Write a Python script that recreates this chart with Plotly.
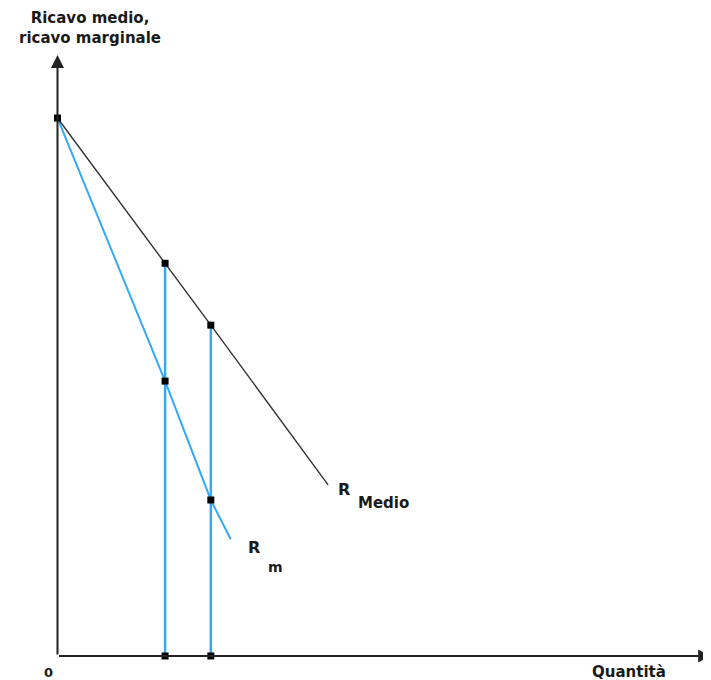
import plotly.graph_objects as go

# Values (price/quantity units)
intercept = 10.0
quantities = [2.00, 2.85]            # the two marked quantities
ar_at_q = [7.30, 6.15]               # average revenue at those quantities
mr_at_q = [5.11, 2.90]               # marginal revenue at those quantities
ar_end = (5.03, 3.18)                # end of the average revenue line
mr_end = (3.22, 2.17)                # end of the marginal revenue line
x_axis_max = 12.15
y_axis_max = 11.17

ar_x = [0] + quantities + [ar_end[0]]
ar_y = [intercept] + ar_at_q + [ar_end[1]]
mr_x = [0] + quantities + [mr_end[0]]
mr_y = [intercept] + mr_at_q + [mr_end[1]]

BLUE = "#35a9f5"
FONT = "DejaVu Sans"
TXT = "#1a1a1a"

fig = go.Figure()

# vertical lines from quantity axis to average revenue
for q, a in zip(quantities, ar_at_q):
    fig.add_trace(go.Scatter(x=[q, q], y=[0, a], mode="lines",
                             line=dict(color=BLUE, width=2.5), hoverinfo="skip"))

fig.add_trace(go.Scatter(x=mr_x, y=mr_y, mode="lines",
                         line=dict(color=BLUE, width=2), hoverinfo="skip"))
fig.add_trace(go.Scatter(x=ar_x, y=ar_y, mode="lines",
                         line=dict(color="#333333", width=1.4), hoverinfo="skip"))

px_pts = [0] + quantities + quantities + quantities
py_pts = [intercept] + ar_at_q + mr_at_q + [0, 0]
fig.add_trace(go.Scatter(x=px_pts, y=py_pts, mode="markers",
                         marker=dict(symbol="square", size=7, color="black"),
                         hoverinfo="skip", cliponaxis=False))

ann = []
# axes with arrows
ann.append(dict(x=0, y=y_axis_max, ax=0, ay=0, xref="x", yref="y", axref="x", ayref="y",
                showarrow=True, arrowhead=2, arrowsize=1.3, arrowwidth=2, arrowcolor="#222", text=""))
ann.append(dict(x=x_axis_max, y=0, ax=0, ay=0, xref="x", yref="y", axref="x", ayref="y",
                showarrow=True, arrowhead=2, arrowsize=1.3, arrowwidth=2, arrowcolor="#222", text=""))

def label(x, y, t, size=14):
    ann.append(dict(x=x, y=y, xref="x", yref="y", text="<b>" + t + "</b>", showarrow=False,
                    font=dict(family=FONT, size=size, color=TXT)))

label(0.61, 11.67, "Ricavo medio,<br>ricavo marginale", 15)
label(-0.17, -0.30, "0", 13)
label(10.63, -0.30, "Quantità", 15)
label(5.32, 3.10, "R", 16)
label(6.06, 2.84, "Medio", 15)
label(3.66, 2.01, "R", 16)
label(4.05, 1.65, "m", 14)

# page has an 8px body margin: ranges chosen so the origin sits at page pixel (57.5, 656)
fig.update_layout(
    width=711, height=680,
    margin=dict(l=0, r=0, t=0, b=0),
    paper_bgcolor="white", plot_bgcolor="white",
    showlegend=False,
    xaxis=dict(range=[-0.920, 12.296], visible=False, fixedrange=True),
    yaxis=dict(range=[-0.595, 12.045], visible=False, fixedrange=True),
    annotations=ann,
)

fig.write_html("out.html")
